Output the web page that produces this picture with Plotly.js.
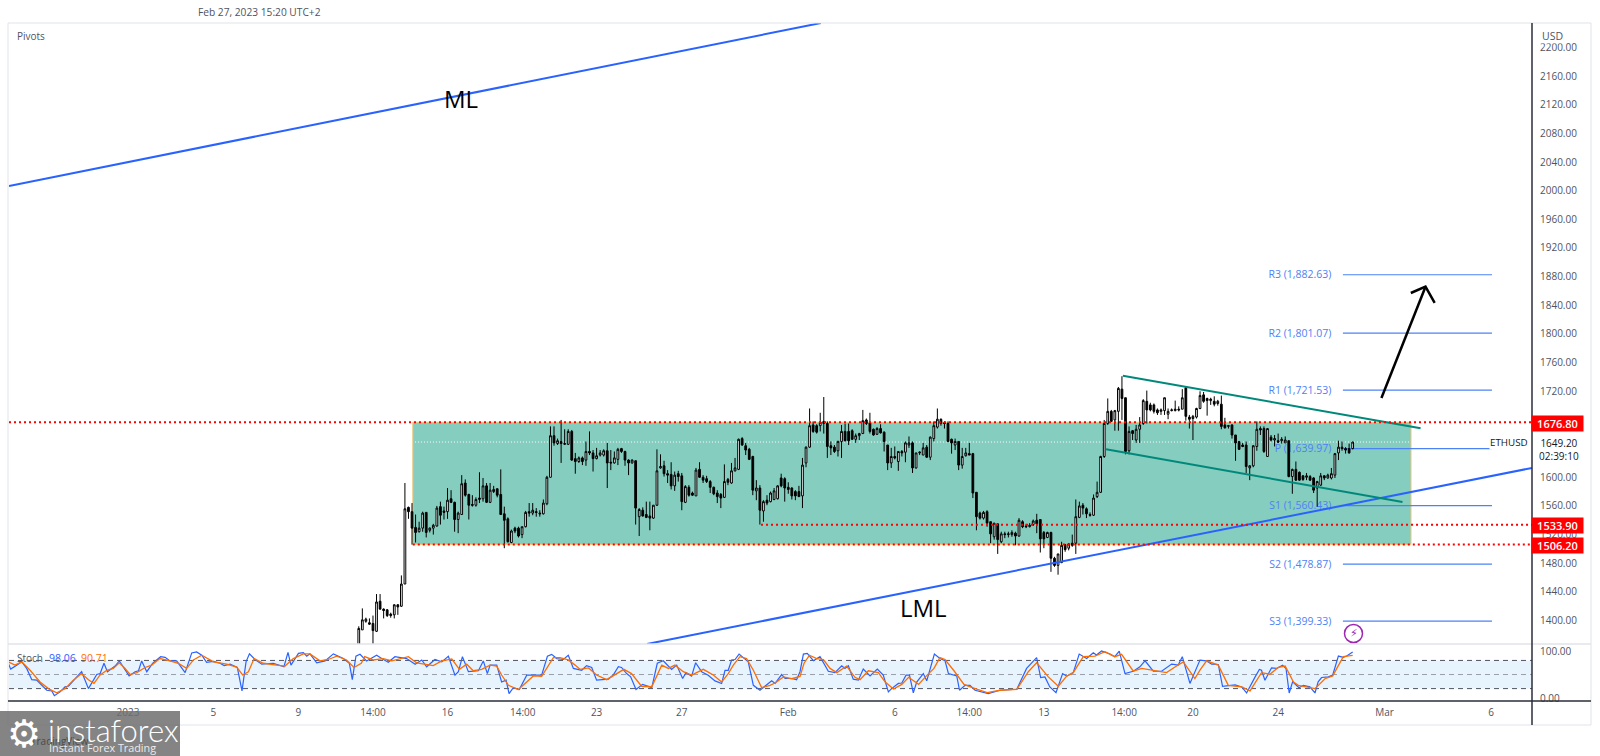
<!DOCTYPE html>
<html>
<head>
<meta charset="utf-8">
<script src="https://cdn.plot.ly/plotly-3.0.1.min.js"></script>
<style>html,body{margin:0;padding:0;background:#fff;overflow:hidden}#chart{width:1600px;height:756px}</style>
</head>
<body>
<div id="chart"></div>
<script>
// ETHUSD 4H candles (last bar Feb 27 2023 12:00)
const open_ = [1358,1387,1399,1397,1396,1385,1427,1416,1415,1409,1408,1422,1420,1451,1558,1552,1530,1524,1529,1551,1526,1529,1532,1559,1553,1552,1570,1565,1541,1548,1592,1576,1562,1561,1569,1570,1588,1565,1580,1584,1576,1549,1542,1509,1529,1529,1520,1531,1552,1550,1552,1550,1549,1563,1600,1658,1647,1650,1646,1646,1664,1626,1622,1627,1624,1636,1634,1626,1631,1631,1637,1621,1620,1625,1640,1636,1624,1620,1623,1545,1554,1548,1546,1543,1561,1613,1616,1605,1604,1588,1605,1602,1565,1586,1578,1574,1611,1600,1598,1594,1586,1578,1576,1572,1597,1592,1609,1611,1654,1644,1639,1629,1581,1585,1553,1568,1566,1569,1570,1599,1598,1586,1585,1580,1580,1574,1620,1642,1673,1672,1672,1678,1675,1644,1642,1637,1650,1664,1664,1665,1653,1658,1661,1680,1676,1667,1660,1668,1663,1645,1620,1629,1622,1636,1635,1645,1648,1613,1634,1631,1642,1628,1654,1670,1681,1676,1675,1653,1645,1650,1617,1630,1633,1633,1579,1550,1543,1552,1538,1517,1535,1510,1521,1520,1520,1522,1518,1538,1532,1531,1534,1540,1541,1523,1516,1523,1487,1477,1481,1506,1501,1508,1508,1544,1561,1556,1548,1547,1573,1579,1629,1675,1692,1680,1692,1723,1711,1637,1665,1652,1667,1675,1706,1701,1701,1694,1692,1693,1688,1693,1693,1695,1695,1725,1684,1682,1684,1696,1715,1710,1707,1706,1703,1702,1673,1671,1673,1659,1650,1645,1645,1613,1616,1643,1668,1668,1629,1656,1652,1651,1651,1648,1651,1601,1611,1607,1602,1600,1601,1599,1585,1589,1602,1599,1599,1603,1634,1642,1640,1640,1640];
const high_ = [1392,1417,1404,1403,1407,1437,1437,1417,1416,1411,1423,1423,1463,1592,1559,1564,1548,1538,1552,1551,1530,1535,1560,1566,1559,1585,1582,1566,1552,1603,1597,1577,1575,1572,1607,1599,1592,1592,1588,1584,1611,1559,1544,1527,1531,1531,1531,1553,1564,1564,1557,1554,1569,1602,1671,1671,1654,1680,1667,1667,1666,1634,1629,1629,1650,1664,1638,1641,1638,1639,1648,1638,1636,1641,1641,1637,1625,1625,1624,1557,1558,1566,1566,1561,1639,1632,1623,1610,1621,1608,1609,1606,1589,1589,1580,1613,1621,1603,1602,1596,1587,1582,1578,1618,1599,1620,1627,1654,1656,1648,1641,1630,1596,1589,1568,1575,1580,1585,1589,1605,1600,1593,1586,1582,1588,1627,1643,1696,1678,1674,1690,1712,1678,1650,1645,1651,1673,1675,1675,1667,1661,1662,1694,1682,1690,1668,1670,1674,1664,1645,1641,1643,1636,1638,1650,1657,1650,1634,1636,1648,1645,1657,1678,1696,1682,1678,1678,1654,1654,1650,1641,1641,1648,1634,1579,1552,1553,1554,1538,1536,1535,1524,1524,1524,1526,1524,1543,1540,1535,1536,1541,1549,1541,1525,1524,1524,1489,1493,1510,1507,1508,1520,1569,1566,1564,1558,1551,1576,1594,1630,1680,1710,1694,1694,1726,1741,1711,1671,1666,1673,1684,1709,1721,1704,1703,1696,1696,1711,1696,1696,1707,1699,1723,1727,1687,1687,1697,1720,1719,1711,1711,1713,1708,1714,1683,1673,1674,1659,1650,1648,1650,1617,1645,1678,1671,1671,1668,1659,1659,1661,1656,1657,1651,1612,1622,1608,1603,1606,1603,1600,1595,1606,1603,1605,1613,1634,1651,1650,1642,1647,1649.5];
const low_  = [1352,1387,1397,1394,1360,1384,1415,1403,1405,1404,1403,1408,1419,1451,1542,1506,1509,1523,1524,1516,1523,1520,1531,1534,1541,1542,1564,1524,1522,1548,1573,1541,1559,1559,1564,1566,1564,1564,1578,1572,1548,1501,1509,1508,1522,1516,1515,1530,1545,1547,1545,1545,1548,1561,1600,1644,1645,1620,1645,1645,1623,1605,1620,1617,1616,1631,1608,1625,1629,1629,1585,1610,1619,1617,1634,1616,1603,1619,1534,1518,1545,1543,1526,1542,1560,1612,1601,1592,1583,1581,1594,1554,1564,1573,1574,1574,1599,1592,1592,1578,1575,1564,1557,1571,1589,1591,1608,1610,1644,1631,1624,1575,1568,1534,1538,1561,1565,1568,1569,1586,1566,1577,1569,1568,1573,1557,1614,1641,1662,1661,1664,1661,1627,1631,1634,1629,1627,1650,1645,1652,1648,1652,1661,1673,1661,1658,1659,1661,1636,1610,1613,1625,1609,1629,1621,1641,1606,1612,1631,1631,1627,1624,1650,1668,1672,1668,1649,1633,1638,1610,1612,1629,1631,1571,1526,1541,1541,1531,1508,1513,1493,1508,1515,1516,1517,1505,1517,1529,1529,1530,1532,1522,1495,1501,1515,1468,1475,1464,1480,1496,1498,1503,1493,1543,1548,1543,1545,1546,1571,1578,1627,1673,1678,1665,1665,1680,1632,1632,1652,1648,1648,1673,1675,1692,1689,1687,1687,1687,1681,1692,1692,1692,1695,1679,1668,1652,1682,1695,1704,1686,1701,1699,1700,1667,1668,1668,1654,1623,1638,1642,1606,1596,1614,1637,1659,1634,1629,1650,1643,1648,1647,1648,1600,1577,1595,1595,1595,1596,1595,1578,1559,1588,1596,1598,1597,1599,1624,1637,1633,1633,1639];
const close_ = [1389,1401,1402,1395,1386,1426,1416,1414,1407,1407,1422,1419,1451,1556,1552,1529,1523,1529,1550,1523,1529,1533,1557,1547,1551,1568,1565,1541,1550,1591,1575,1561,1561,1569,1571,1588,1565,1582,1583,1575,1548,1540,1510,1525,1525,1518,1531,1551,1550,1554,1551,1549,1564,1600,1658,1648,1651,1647,1647,1664,1624,1622,1627,1622,1636,1634,1626,1630,1634,1637,1620,1620,1627,1639,1636,1624,1620,1624,1557,1555,1546,1544,1543,1561,1609,1615,1605,1603,1588,1603,1601,1566,1587,1575,1575,1610,1600,1596,1594,1586,1577,1573,1571,1594,1593,1609,1613,1653,1645,1638,1625,1582,1585,1554,1566,1564,1578,1581,1588,1588,1585,1583,1574,1574,1573,1617,1642,1672,1664,1663,1677,1675,1643,1641,1636,1650,1664,1651,1651,1653,1658,1661,1679,1675,1664,1659,1668,1662,1650,1620,1629,1627,1636,1634,1648,1648,1613,1634,1635,1641,1628,1656,1672,1681,1675,1675,1650,1648,1650,1617,1629,1634,1631,1578,1545,1543,1551,1536,1521,1536,1513,1521,1520,1521,1523,1518,1540,1531,1531,1533,1539,1535,1514,1514,1523,1487,1477,1493,1505,1499,1507,1505,1545,1560,1557,1549,1547,1571,1579,1629,1675,1692,1678,1693,1724,1710,1636,1664,1661,1667,1673,1707,1694,1694,1692,1690,1694,1711,1692,1694,1695,1694,1711,1685,1681,1685,1696,1714,1706,1707,1709,1702,1706,1671,1669,1672,1659,1648,1639,1643,1615,1616,1644,1667,1666,1636,1668,1652,1654,1649,1653,1652,1601,1611,1596,1596,1597,1602,1596,1582,1594,1602,1599,1603,1605,1633,1642,1640,1638,1634,1649.2];

// Stochastic: vertices, x as days since Jan 1 2023
const stochKDays = [-5.62,-5.51,-5.23,-4.99,-4.76,-4.52,-4.29,-4.05,-3.82,-3.58,-3.46,-3.19,-2.96,-2.8,-2.49,-2.18,-1.86,-1.71,-1.47,-1.31,-1.13,-0.97,-0.61,-0.41,-0.22,0.05,0.33,0.49,0.64,0.88,1.16,1.53,1.74,1.97,2.28,2.68,2.99,3.22,3.46,3.69,4.01,4.32,4.51,4.79,5.13,5.35,5.54,5.7,5.96,6.28,6.82,7.32,7.51,7.65,8,8.23,8.39,8.54,8.86,9.25,9.64,10.11,10.39,10.53,10.7,10.89,11.2,11.67,11.91,12.22,12.53,12.77,13.08,13.48,13.79,14.02,14.41,14.73,15.04,15.35,15.51,15.7,15.98,16.45,16.68,16.87,17,17.31,17.54,17.75,17.89,18.09,18.37,18.72,19.11,19.42,19.69,19.89,20.13,20.44,20.67,20.91,21.3,21.53,21.77,22,22.55,22.78,23.02,23.17,23.41,23.6,23.85,24.16,24.59,24.85,25.13,25.52,25.76,26.04,26.2,26.46,26.65,26.93,27.24,27.56,27.87,28.03,28.18,28.34,28.5,28.69,29.12,29.36,29.67,30.06,30.22,30.38,30.69,30.85,31.16,31.39,31.55,31.71,31.89,32.18,32.49,32.88,33.19,33.51,33.66,33.82,34.05,34.29,34.52,34.84,35.18,35.46,35.7,35.85,36.17,36.33,36.53,36.69,36.87,37.03,37.34,37.5,37.86,38.12,38.36,38.52,38.91,39.04,39.3,39.53,39.77,40.39,40.94,41.73,42.19,42.66,42.85,43.05,43.28,43.57,43.88,44.07,44.38,44.66,45.01,45.32,45.47,45.71,46.1,46.33,46.54,46.81,47.2,47.51,47.75,48.14,48.53,49,49.31,49.5,49.86,50.33,50.64,50.88,51.19,51.39,51.66,51.98,52.29,52.52,52.92,53.12,53.22,53.38,53.69,53.93,54.21,54.37,54.52,54.68,54.98,55.18,55.49,55.73,55.88,56.04,56.36,56.56,56.83,57.06,57.22,57.5];
const stochK = [73.6,61.5,70,77,63,39,38,27,16.5,15,5,13,24,25,41.5,56,20,31,50,52,74,56,68,79,66,47,56,58,79,56,74,88,86.5,79,79,54,96,98,91,76,78,74,69,72,65,15,77,94,82,72,74,66.5,97,70,95,96.5,89,94,75,79,94,84,74,39,89,93,79,91,84,76,88,86.5,84,72,81,66.5,82,77,89,48.6,56,88,56,58,79,52,70,70,34,38,9.4,22,18,48.6,48.6,48.6,89,93,84,82,91,63,59,69,65,38,40,49,66.5,65,52,45,18,29,22,74,79.3,60.8,70,41.5,54,46.5,75,56,48.6,36.5,31,59,59,81,82,93.6,77,27,16.5,32,36.5,31,50,41.5,41.5,39,56,93.6,95,79.3,88,57,54,68.6,63,68.6,40,38,61.5,47,61.5,48.6,13,20,31,32,48.6,48.6,10.8,34,52,36.5,93.6,84,79.3,52,47,16.5,27,27,16.5,9.4,16.5,18.6,63,85.8,43.6,45,23.6,11.5,52,46.5,54,93.6,84,96.5,91.5,100,93.6,88,100,52,57,66.5,79.3,57,57,72.2,70,88,31,80.8,79,72,71.4,25,26.5,27.9,23.6,10.7,45,60.7,59,37.9,64,62.9,70,62.9,10.7,34.3,22,27,23.6,10.7,34.3,43.6,45,48.6,89.3,86.4,89.3,98.06];
const stochDDays = [-5.62,-5.31,-4.99,-4.6,-4.13,-3.74,-3.35,-2.96,-2.57,-2.18,-1.86,-1.6,-1.31,-1,-0.69,-0.41,-0.14,0.09,0.41,0.8,1.11,1.5,1.97,2.36,2.75,3.07,3.46,4.01,4.63,5.1,5.38,5.65,5.92,6.35,6.98,7.37,7.76,8.23,8.54,9.01,9.4,9.8,10.26,10.61,10.95,11.11,11.51,11.98,12.38,12.77,13.16,13.55,13.94,14.33,14.73,15.2,15.56,15.9,16.21,16.6,17,17.31,17.54,17.86,18.33,18.72,19.03,19.42,19.66,19.97,20.28,20.67,20.99,21.22,21.62,22,22.47,22.94,23.28,23.64,24.11,24.59,25.06,25.37,25.68,26.07,26.46,27.01,27.48,27.87,28.18,28.42,28.73,29.04,29.36,29.75,30.14,30.38,30.77,31.16,31.55,31.74,31.99,32.34,32.65,32.96,33.28,33.74,34.13,34.37,34.76,35.23,35.55,35.94,36.33,36.65,37.12,37.44,37.84,38.12,38.36,38.78,39.25,39.64,40.34,40.94,41.73,42.27,42.66,43.21,43.68,44.07,44.38,44.85,45.4,45.87,46.33,46.65,47.2,47.59,48.14,48.76,49.23,49.55,50.09,50.33,50.64,51.19,51.66,52.29,52.68,53.22,53.61,54.01,54.33,54.72,54.95,55.73,56.2,56.56,57.06,57.5];
const stochD = [77,70,77,59,34,20,11,20,38,52,39,31,49,59,63,75,63,50,54,65,70,84,79,74,63,81,91,77,72,66,49,56,84,74,70,68,84,94,94,79,82,89,81,65,74,88,81,84,79,84,88,75,72,69,79,83,61,72,58,61,70,68,49,27,18,34,47,46,63,86,86,81,70,61,64,49,39,52,61,52,25,24,70,63,70,56,49,61,49,34,52,70,88,84,59,22,27,32,45,41,46,74,91,84,82,63,54,68,44,39,58,54,34,19,29,44,29,45,63,86,82,58,29,22,11.5,16.5,18.6,56,75,45,25,46.5,54,88,89,98.6,88,93,57,63,59,54,68,77,41.5,59.3,79,70,27,23.6,15,54,50.7,65,68,34,27,20,41,47,88,90.71];

// Pivot levels
const pivotNames = ["R3","R2","R1","P","S1","S2","S3"];
const pivotLevels = [1882.63,1801.07,1721.53,1639.97,1560.43,1478.87,1399.33];
const pivotTexts = ["R3 (1,882.63)","R2 (1,801.07)","R1 (1,721.53)","P (1,639.97)","S1 (1,560.43)","S2 (1,478.87)","S3 (1,399.33)"];

// Trend and channel drawings: [days since Jan 1], [price]
const mlDays = [-5.59,32.53], mlPrice = [2006.6,2234];
const lmlDays = [24.37,65.92], lmlPrice = [1367.3,1613];
const chanUpDays = [46.71,60.69], chanUpPrice = [1741.8,1668.4];
const chanLowDays = [45.92,59.84], chanLowPrice = [1639.1,1565.5];
const arrowDays = [58.85,60.92], arrowPrice = [1710.7,1866];
const headDays = [60.23,60.92,61.35], headPrice = [1857.2,1866,1843.3];

// Horizontal levels
const resistance = 1676.8, support1 = 1533.9, support2 = 1506.2, lastPrice = 1649.2;
const boxStartDay = 13.37, boxEndDay = 60.24, support1StartDay = 29.72;

// Axis labels
const priceTicks = [2200,2160,2120,2080,2040,2000,1960,1920,1880,1840,1800,1760,1720,1600,1560,1520,1480,1440,1400];
const stochTicks = [100,0];
const timeTickDays = [0,4,8,11.5,15,18.53,22,26,31,36,39.5,43,46.77,50,54,59,64];
const timeTickText = ["2023","5","9","14:00","16","14:00","23","27","Feb","6","14:00","13","14:00","20","24","Mar","6"];

const W = 1600, H = 756;
const FONT = '"Open Sans", sans-serif';
const TXT = '#50535e';
const day0 = Date.UTC(2023,0,1);
const dayIso = d => new Date(day0 + d*864e5).toISOString();
const px = x => x/W, py = y => 1 - y/H;
const lastBar = Date.UTC(2023,1,27,12);
const times = open_.map((_,i) => new Date(lastBar - (open_.length-1-i)*4*36e5).toISOString());

const line = (name,days,prices,color,width) => ({type:'scatter',mode:'lines',name,x:days.map(dayIso),y:prices,
  xaxis:'x',yaxis:'y',line:{color,width},hoverinfo:'skip',showlegend:false});

const data = [
  {type:'candlestick',x:times,open:open_,high:high_,low:low_,close:close_,xaxis:'x',yaxis:'y',whiskerwidth:0,showlegend:false,
   increasing:{line:{color:'#000',width:1},fillcolor:'#fff'},decreasing:{line:{color:'#000',width:1},fillcolor:'#000'}},
  line('ML',mlDays,mlPrice,'#2962ff',2),
  line('LML',lmlDays,lmlPrice,'#2962ff',2),
  line('Channel top',chanUpDays,chanUpPrice,'#00897b',2),
  line('Channel bottom',chanLowDays,chanLowPrice,'#00897b',2),
  line('Arrow',arrowDays,arrowPrice,'#000',2.5),
  line('Arrow head',headDays,headPrice,'#000',2.5),
  {type:'scatter',mode:'lines',name:'%K',x:stochKDays.map(dayIso),y:stochK,xaxis:'x',yaxis:'y2',line:{color:'#2962ff',width:1.2},showlegend:false},
  {type:'scatter',mode:'lines',name:'%D',x:stochDDays.map(dayIso),y:stochD,xaxis:'x',yaxis:'y2',line:{color:'#ff6d00',width:1.3},showlegend:false}
];

const pxLine = (x0,y0,x1,y1,color,width) => ({type:'line',xref:'paper',yref:'paper',x0:px(x0),x1:px(x1),y0:py(y0),y1:py(y1),line:{color,width},layer:'above'});
const hLevel = (d0,d1,p,color,width,dash,layer) => ({type:'line',xref:'x',yref:'y',x0:dayIso(d0),x1:dayIso(d1),y0:p,y1:p,line:{color,width,dash},layer});
const stochLevel = (v,color) => ({type:'line',xref:'paper',yref:'y2',x0:px(9),x1:px(1532),y0:v,y1:v,line:{color,width:1,dash:'5px,4px'},layer:'below'});
const dEnd = 65.92, dStart = -5.59;

const shapes = [
  // box and mid line
  {type:'rect',xref:'x',yref:'y',x0:dayIso(boxStartDay),x1:dayIso(boxEndDay),y0:support2,y1:resistance,
   fillcolor:'#85cdbf',line:{color:'#f4c77a',width:1},layer:'below'},
  hLevel(boxStartDay+0.1,boxEndDay-0.1,lastPrice,'#ffffff',1,'1px,2px','below'),
  // stochastic band
  {type:'rect',xref:'paper',yref:'y2',x0:px(9),x1:px(1532),y0:20,y1:80,fillcolor:'#e7f3fd',line:{width:0},layer:'below'},
  stochLevel(80,'#50535e'),stochLevel(50,'#9a9ea8'),stochLevel(20,'#50535e'),
  // red levels
  hLevel(dStart,dEnd,resistance,'#ff0000',2,'2px,3px','above'),
  hLevel(support1StartDay,dEnd,support1,'#ff0000',2,'2px,3px','above'),
  hLevel(boxStartDay,dEnd,support2,'#ff0000',2,'2px,3px','above')
];
// pivot lines and their labels, under the candles
pivotLevels.forEach((p,i) => {
  shapes.push(hLevel(57.04,64.04,p,'#4d82f5',1.2,'solid','below'));
  shapes.push({type:'line',xref:'x',yref:'y',x0:dayIso(52),x1:dayIso(56.5),y0:p,y1:p,line:{width:0},layer:'below',
    label:{text:pivotTexts[i],textposition:'end',xanchor:'right',yanchor:'middle',font:{family:FONT,size:10.5,color:'#4d82f5'},padding:0}});
});
// frame
shapes.push(
  {type:'rect',xref:'paper',yref:'paper',x0:px(8),x1:px(1591),y0:py(725),y1:py(23),line:{color:'#e0e3eb',width:1},layer:'above'},
  pxLine(8,644,1591,644,'#e0e3eb',1.5),
  pxLine(8,701,1591,701,'#2a2e39',1.5),
  pxLine(1532,23,1532,725,'#2a2e39',1.5),
  // watermark plate
  {type:'rect',xref:'paper',yref:'paper',x0:0,x1:px(180),y0:0,y1:py(711),fillcolor:'rgba(112,112,112,0.86)',line:{width:0},layer:'above'},
  // event circle
  {type:'circle',xref:'paper',yref:'paper',x0:px(1344.5),x1:px(1362.5),y0:py(642.5),y1:py(624.5),line:{color:'#9c27b0',width:1.5},fillcolor:'#fff',layer:'above'}
);

const note = (text,x,y,o={}) => Object.assign({xref:'paper',yref:'paper',x:px(x),y:py(y),text,showarrow:false,xanchor:'left',yanchor:'middle',
  font:{family:FONT,size:11,color:TXT},borderpad:0},o);
const badge = (text,y) => note(text,1557.5,y,{xanchor:'center',bgcolor:'#ff0000',font:{family:FONT,size:11,color:'#fff',weight:600},width:51,height:15,align:'center'});

const annotations = [
  note('Feb 27, 2023 15:20 UTC+2',197,12.5,{font:{family:FONT,size:10.2,color:'#50535e'}}),
  note('Pivots',16,36,{font:{family:FONT,size:10,color:'#50535e'}}),
  note('USD',1541,35.5,{font:{family:FONT,size:10.5,color:'#50535e'},bgcolor:'rgba(255,255,255,0.7)'}),
  note('Stoch',16,657.5,{font:{family:FONT,size:10,color:'#50535e'}}),
  note('98.06',48,657.5,{font:{family:FONT,size:10.5,color:'#2962ff'}}),
  note('90.71',80,657.5,{font:{family:FONT,size:10.5,color:'#ff6d00'}}),
  note('ML',461,99,{xanchor:'center',font:{family:FONT,size:24,color:'#000'}}),
  note('LML',923,607,{xanchor:'center',font:{family:FONT,size:24,color:'#000'}}),
  badge('1676.80',423.5),badge('1533.90',525.5),badge('1506.20',545.5),
  note('ETHUSD',1489,442.5,{bgcolor:'#fff',font:{family:FONT,size:9.8,color:'#131722'}}),
  note('1649.20<br>02:39:10',1533,449,{width:50,height:27,align:'center',bgcolor:'#fff',font:{family:FONT,size:10,color:'#131722'}}),
  note('\u26A1',1353.5,633.5,{xanchor:'center',font:{family:'DejaVu Sans',size:11,color:'#9c27b0'}}),
  // watermark
  note('TradingView',30,741,{font:{family:FONT,size:10,color:'#4a4a4a'}}),
  note('\u2699',24,734,{xanchor:'center',font:{family:'DejaVu Sans',size:38,color:'#ffffff'}}),
  note('instaforex',47,730,{font:{family:'Lato, sans-serif',size:31,color:'#ffffff',weight:300}}),
  note('Instant Forex Trading',48,747,{font:{family:FONT,size:10.8,color:'#ececec'}})
];

const layout = {
  width:W,height:H,margin:{l:0,r:0,t:0,b:0},paper_bgcolor:'#fff',plot_bgcolor:'rgba(0,0,0,0)',showlegend:false,hovermode:false,
  dragmode:false,font:{family:FONT,size:11,color:TXT},
  xaxis:{type:'date',domain:[px(9),px(1532)],range:[dayIso(dStart),dayIso(dEnd)],anchor:'y2',rangeslider:{visible:false},
    tickmode:'array',tickvals:timeTickDays.map(dayIso),ticktext:timeTickText,ticks:'',showgrid:false,zeroline:false,showline:false,
    tickfont:{family:FONT,size:10,color:TXT},ticklabelstandoff:4},
  yaxis:{domain:[py(644),py(23)],range:[1367.3,2234],side:'right',anchor:'x',tickmode:'array',tickvals:priceTicks,ticktext:priceTicks.map(v=>v.toFixed(2)),
    ticks:'',showgrid:false,zeroline:false,showline:false,tickfont:{family:FONT,size:10,color:TXT},ticklabelstandoff:7},
  yaxis2:{domain:[py(701),py(644)],range:[-6.4,115],side:'right',anchor:'x',tickmode:'array',tickvals:stochTicks,ticktext:stochTicks.map(v=>v.toFixed(2)),
    ticks:'',showgrid:false,zeroline:false,showline:false,tickfont:{family:FONT,size:10,color:TXT},ticklabelstandoff:7},
  shapes,annotations
};
Plotly.newPlot('chart',data,layout,{displayModeBar:false,staticPlot:true});
</script>
</body>
</html>
